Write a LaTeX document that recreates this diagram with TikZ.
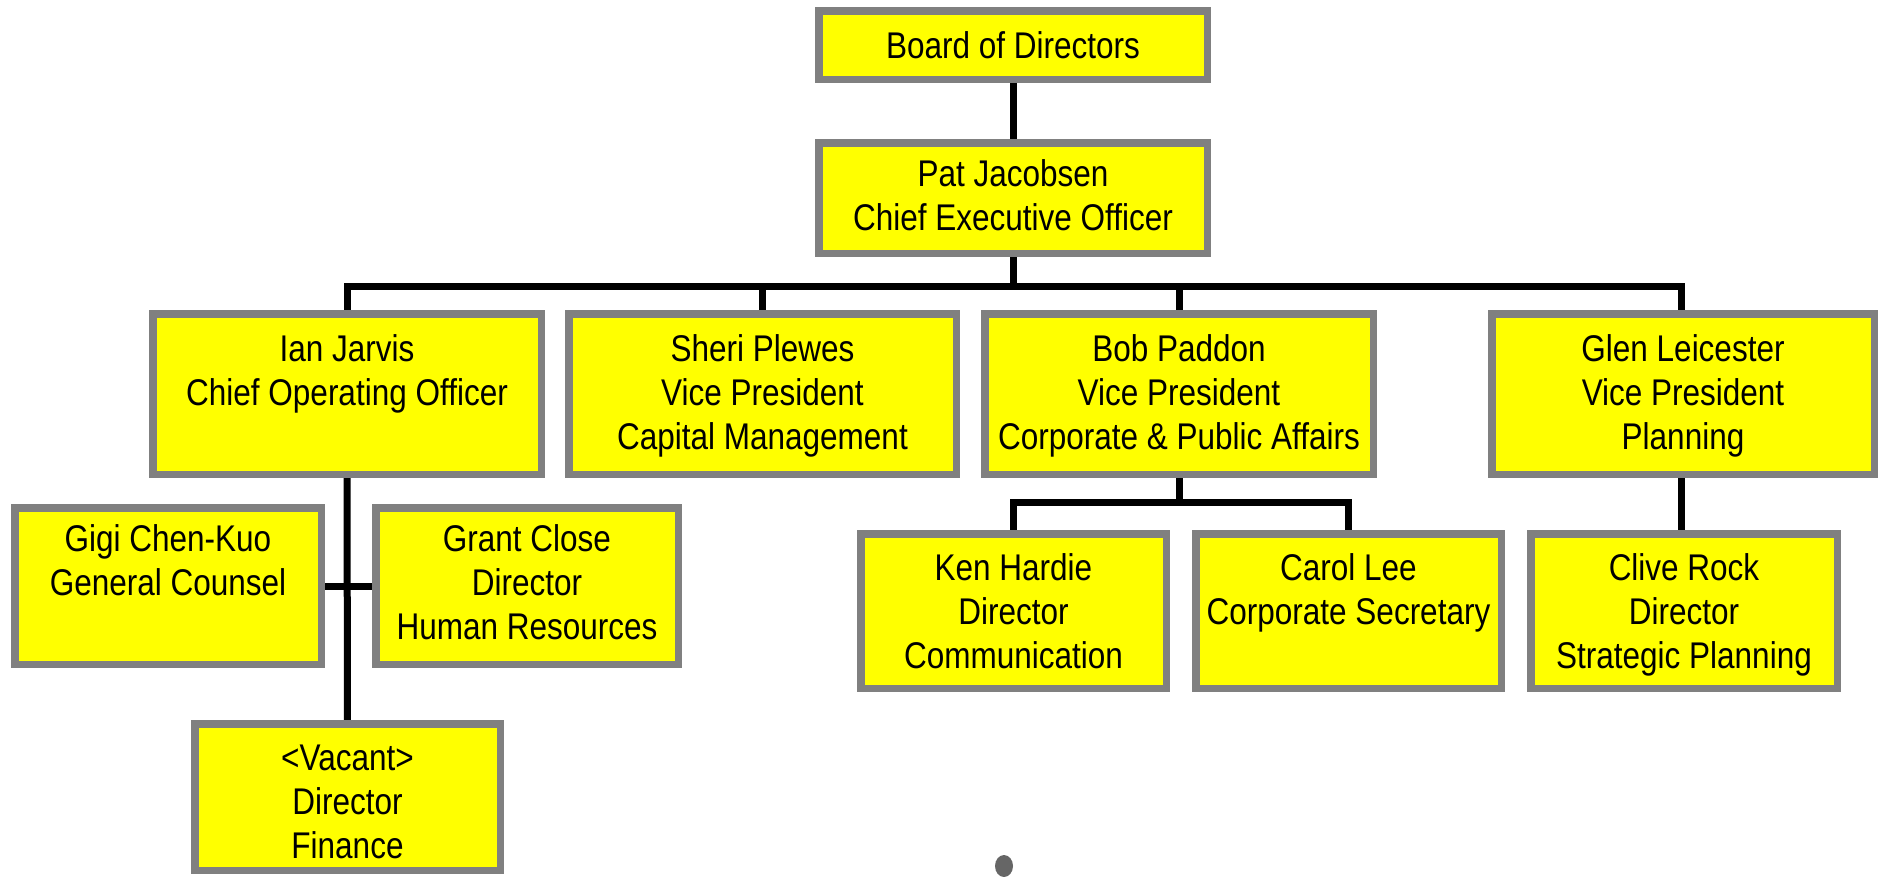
\documentclass[tikz,border=0pt]{standalone}
\usepackage{fontspec}
\setmainfont{Liberation Sans}
\usetikzlibrary{backgrounds,shapes.geometric}
\definecolor{boxyellow}{HTML}{FFFF00}
\definecolor{boxgray}{HTML}{808080}
\definecolor{dotgray}{HTML}{666666}
\newcommand\bx[1]{\scalebox{1}[1.18]{\begin{tabular}[t]{@{}c@{}}#1\end{tabular}}}
\newcommand\obox[7]{%
  \node[box, minimum width={#4-#2-7.5}, minimum height={#5-#3-7.5}] (#1) at ({(#2+#4)/2},{(#3+#5)/2}) {};
  \node[txt, anchor=base] (#1-t) at ({(#2+#4)/2},{#3+#6}) {\bx{#7}};
}
\tikzset{
  box/.style={draw=boxgray, fill=boxyellow, line width=7.5pt, inner sep=0pt, outer sep=0pt, rectangle},
  txt/.style={inner sep=0pt, outer sep=0pt, font=\fontsize{31.5}{37.3}\selectfont},
  conn/.style={draw=black, line width=7pt}
}
\begin{document}
\begin{tikzpicture}[x=1pt,y=-1pt]
\useasboundingbox (0,0) rectangle (1881,876);
\obox{board}{815}{7}{1211}{83}{51}{Board of Directors}
\obox{ceo}{815}{139}{1211}{257}{47}{Pat Jacobsen\\Chief Executive Officer}
\obox{ian}{149}{310}{545}{478}{51}{Ian Jarvis\\Chief Operating Officer}
\obox{sheri}{565}{310}{960}{478}{51}{Sheri Plewes\\Vice President\\Capital Management}
\obox{bob}{981}{310}{1377}{478}{51}{Bob Paddon\\Vice President\\Corporate \& Public Affairs}
\obox{glen}{1488}{310}{1878}{478}{51}{Glen Leicester\\Vice President\\Planning}
\obox{gigi}{11}{504}{325}{668}{47}{Gigi Chen-Kuo\\General Counsel}
\obox{grant}{372}{504}{682}{668}{47}{Grant Close\\Director\\Human Resources}
\obox{vacant}{191}{720}{504}{874}{50}{<Vacant>\\Director\\Finance}
\obox{ken}{857}{530}{1170}{692}{50}{Ken Hardie\\Director\\Communication}
\obox{carol}{1192}{530}{1505}{692}{50}{Carol Lee\\Corporate Secretary}
\obox{clive}{1527}{530}{1841}{692}{50}{Clive Rock\\Director\\Strategic Planning}
\node[fill=dotgray, ellipse, minimum width=18pt, minimum height=22pt, inner sep=0pt] (dot) at (1004,866) {};
\coordinate (bar) at (1013,286);
\coordinate (bbar) at (1179,502);
\coordinate (gc) at (1681,530);
\begin{scope}[on background layer]
  \fill[white] (0,0) rectangle (1881,876);
  \draw[conn] (board.south) -- (ceo.north);
  \draw[conn] (ceo.south) -- (bar);
  \draw[conn] (bar) -| (ian.north);
  \draw[conn] (bar) -| (sheri.north);
  \draw[conn] (bar) -| (bob.north);
  \draw[conn] (bar) -| (gc |- glen.north);
  \draw[conn] (ian.south) -- (vacant.north);
  \draw[conn] (gigi.east) -- (grant.west);
  \draw[conn] (bob.south) -- (bbar);
  \draw[conn] (bbar) -| (ken.north);
  \draw[conn] (bbar) -| (carol.north);
  \draw[conn] (gc |- glen.south) -- (gc |- clive.north);
\end{scope}
\end{tikzpicture}
\end{document}
